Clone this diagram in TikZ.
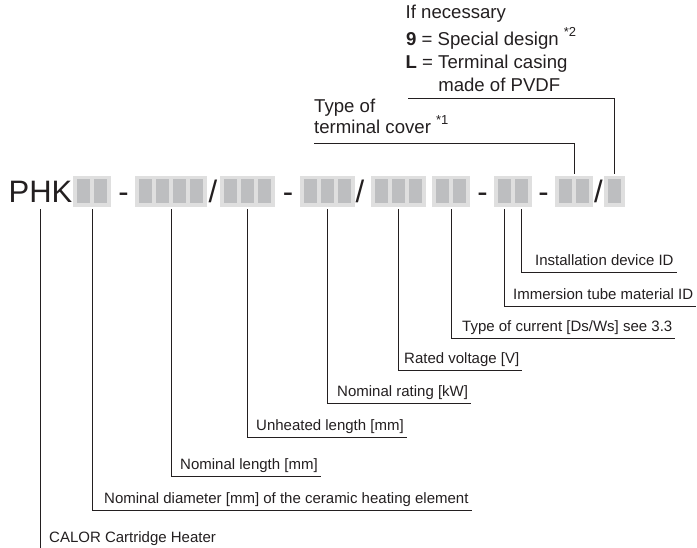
\documentclass[tikz,border=0pt]{standalone}
\usepackage{fontspec}
\setmainfont{Liberation Sans}
\definecolor{boxbg}{RGB}{223,223,223}
\definecolor{sqfill}{RGB}{189,190,192}
\definecolor{ink}{RGB}{35,31,32}
\newcommand{\supmark}[1]{\raisebox{9pt}{\fontsize{13}{13}\selectfont #1}}
\begin{document}
\begin{tikzpicture}[x=1pt,y=-1pt,
  gbox/.style={fill=boxbg, draw=none, inner sep=0pt, minimum height=31pt, anchor=north west},
  sqbox/.style={fill=sqfill, draw=none, inner sep=0pt, minimum width=13pt, minimum height=24pt, anchor=north west},
  bigtxt/.style={font=\fontsize{31}{31}\selectfont, text=ink, inner sep=0pt, anchor=base},
  lab/.style={font=\fontsize{15}{17}\selectfont, text=ink, anchor=south west, inner xsep=3pt, inner ysep=0pt, text depth=6pt},
  toptxt/.style={font=\fontsize{18.6}{21}\selectfont, text=ink, anchor=base west, inner sep=0pt},
  conn/.style={draw=ink, line width=0.9pt},
]
\useasboundingbox (0,0) rectangle (697,548);

% code groups
\foreach \nm/\gx/\n in {g1/73/2, g2/135/4, g3/220/3, g4/300/3, g5/371/3, g6/432/2, g7/494/2, g8/555/2, g9/604/1} {
  \node[gbox, minimum width={(4+17*\n)*1pt}] (\nm) at (\gx,176) {};
  \foreach \k in {1,...,\n} {
    \node[sqbox] (\nm-\k) at ({\gx+4+17*(\k-1)},179) {};
  }
}

% big text
\node[bigtxt] (phk) at (40.5,203) {PHK};
\node[bigtxt] (d1) at (123.5,203) {-};
\node[bigtxt] (s1) at (213,203) {/};
\node[bigtxt] (d2) at (288,203) {-};
\node[bigtxt] (s2) at (360,203) {/};
\node[bigtxt] (d3) at (482.5,203) {-};
\node[bigtxt] (d4) at (543.5,203) {-};
\node[bigtxt] (s3) at (598.5,203) {/};

% bottom labels
\node[lab] (calor) at (46,549) {CALOR Cartridge Heater};
\node[lab] (nd) at (101,510) {Nominal diameter [mm] of the ceramic heating element};
\node[lab] (nl) at (177,476) {Nominal length [mm]};
\node[lab] (uh) at (253,437) {Unheated length [mm]};
\node[lab] (nr) at (334,403) {Nominal rating [kW]};
\node[lab] (rv) at (401,370) {Rated voltage [V]};
\node[lab] (tcur) at (459,338) {Type of current [Ds/Ws] see 3.3};
\node[lab] (imm) at (510,306) {Immersion tube material ID};
\node[lab] (inst) at (532,272) {Installation device ID};

\draw[conn, shorten <=6pt] (phk.south) -- (phk.south |- calor.south);
\draw[conn, shorten <=2pt] (g1.south) |- (nd.south east);
\draw[conn, shorten <=2pt] (g2.south) |- (nl.south east);
\draw[conn, shorten <=2pt] (g3.south) |- (uh.south east);
\draw[conn, shorten <=2pt] (g4.south) |- (nr.south east);
\draw[conn, shorten <=2pt] (g5.south) |- (rv.south east);
\draw[conn, shorten <=2pt] (g6.south) |- (tcur.south east);
\draw[conn, shorten <=6pt] (g7-1.south) |- (imm.south east);
\draw[conn, shorten <=6pt] (g7-2.south) |- (inst.south east);

% top labels
\node[toptxt] (ifn) at (405.5,19) {If necessary};
\node[toptxt] (nine) at (406,46) {\textbf{9} = Special design \supmark{*2}};
\node[toptxt] (ell) at (405.5,69) {\textbf{L} = Terminal casing};
\node[toptxt] (pvdf) at (405.5,92) {\phantom{\textbf{L} = }made of PVDF};
\coordinate (topline) at (408,98);
\draw[conn, shorten >=2pt] (topline) -| (g9.north);

\node[toptxt] (typeof) at (314,113) {Type of};
\node[toptxt] (tcov) at (314,134) {terminal cover \supmark{*1}};
\coordinate (midline) at (314,143);
\draw[conn, shorten >=2pt] (midline) -| (g8.north);
\end{tikzpicture}
\end{document}
